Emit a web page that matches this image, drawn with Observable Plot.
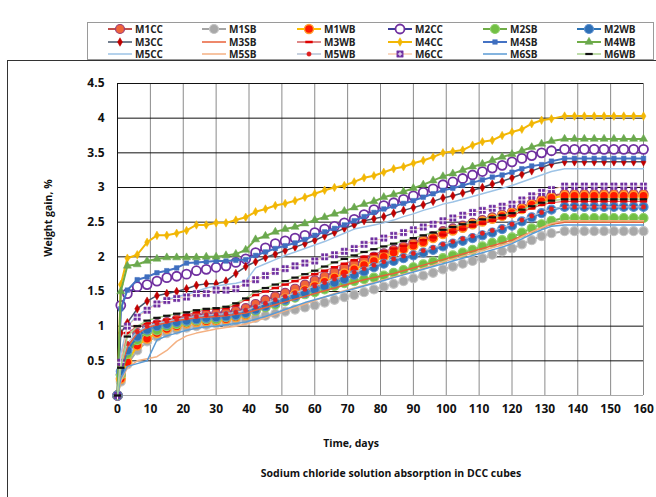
<!DOCTYPE html>
<html><head><meta charset="utf-8">
<script src="https://cdn.jsdelivr.net/npm/d3@7"></script>
<script src="https://cdn.jsdelivr.net/npm/@observablehq/plot@0.6"></script>
<style>
body{margin:0;background:#fff;width:656px;height:497px;overflow:hidden;position:relative;font-family:"Open Sans",Lato,sans-serif;}
#frame{position:absolute;left:7px;top:60px;width:660px;height:450px;border-left:1px solid #333;border-top:1px solid #333;}
#legend{position:absolute;left:87px;top:22px;width:565px;height:36px;border:1px solid #9a9a9a;background:#fff;}
#chart{position:absolute;left:0;top:60px;}
.lab{position:absolute;font-weight:700;color:#111;white-space:nowrap;}
#ylab{font-size:10.5px;left:48px;top:218px;transform:translate(-50%,-50%) rotate(-90deg);}
#xlab{font-size:10.5px;left:351px;top:443px;transform:translate(-50%,-50%);}
#cap{font-size:10.5px;left:391px;top:473px;transform:translate(-50%,-50%);}
.li{position:absolute;display:flex;align-items:center;font-size:10px;font-weight:700;color:#222;}
</style></head><body>
<div id="frame"></div>
<div id="legend"></div>
<div id="chart"></div>
<div class="lab" id="ylab">Weight gain, %</div>
<div class="lab" id="xlab">Time, days</div>
<div class="lab" id="cap">Sodium chloride solution absorption in DCC cubes</div>
<script>
const days = [0,1,3,6,9,12,15,18,21,24, 27,30,33,36,39,42,45,48,51,54, 57,60,63,66,69,72,75,78,81,84, 87,90,93,96,99,102,105,108,111,114, 117,120,123,126,129,132, 136,139,142,145,148,151,154,157,160];
const M1CC = [0,0.3,0.7,0.9,0.98,1.03,1.06,1.1,1.12,1.15, 1.17,1.18,1.2,1.22,1.26,1.32,1.38,1.43,1.48,1.54, 1.6,1.66,1.72,1.78,1.84,1.9,1.95,2.0,2.05,2.1, 2.15,2.2,2.25,2.3,2.37,2.41,2.45,2.49,2.53,2.57, 2.61,2.65,2.71,2.77,2.83,2.88, 2.91,2.91,2.91,2.91,2.91,2.91,2.91,2.91,2.91];
const M1SB = [0,0.2,0.45,0.65,0.78,0.85,0.9,0.95,0.98,1.0, 1.02,1.04,1.05,1.07,1.09,1.12,1.15,1.18,1.21,1.24, 1.27,1.3,1.34,1.38,1.42,1.45,1.49,1.53,1.57,1.61, 1.65,1.69,1.73,1.77,1.82,1.86,1.9,1.94,1.98,2.03, 2.08,2.12,2.18,2.24,2.3,2.34, 2.37,2.37,2.37,2.37,2.37,2.37,2.37,2.37,2.37];
const M1WB = [0,0.24,0.48,0.72,0.82,0.9,0.96,1.0,1.04,1.06, 1.07,1.08,1.1,1.13,1.16,1.22,1.28,1.34,1.4,1.46, 1.52,1.58,1.64,1.7,1.76,1.82,1.88,1.94,2.0,2.06, 2.11,2.16,2.21,2.27,2.33,2.38,2.42,2.47,2.51,2.55, 2.59,2.63,2.69,2.75,2.8,2.85, 2.88,2.88,2.88,2.88,2.88,2.88,2.88,2.88,2.88];
const M2CC = [0,1.3,1.47,1.57,1.6,1.65,1.7,1.72,1.75,1.8, 1.82,1.85,1.87,1.92,1.97,2.06,2.13,2.19,2.23,2.27, 2.31,2.35,2.4,2.44,2.49,2.54,2.61,2.68,2.74,2.78, 2.83,2.88,2.93,2.98,3.04,3.08,3.13,3.18,3.23,3.28, 3.32,3.37,3.42,3.46,3.5,3.53, 3.55,3.55,3.55,3.55,3.55,3.55,3.55,3.55,3.55];
const M2SB = [0,0.3,0.6,0.8,0.92,0.94,1.0,1.03,1.06,1.08, 1.1,1.1,1.13,1.15,1.18,1.22,1.27,1.31,1.36,1.41, 1.46,1.49,1.53,1.58,1.62,1.65,1.68,1.7,1.73,1.77, 1.81,1.85,1.89,1.93,1.98,2.02,2.06,2.1,2.15,2.2, 2.24,2.28,2.35,2.41,2.47,2.52, 2.56,2.56,2.56,2.56,2.56,2.56,2.56,2.56,2.56];
const M2WB = [0,0.35,0.65,0.85,0.95,1.0,1.03,1.06,1.08,1.1, 1.12,1.13,1.14,1.16,1.19,1.24,1.29,1.34,1.38,1.43, 1.48,1.53,1.58,1.63,1.68,1.74,1.79,1.85,1.9,1.94, 1.98,2.02,2.06,2.1,2.15,2.19,2.23,2.27,2.31,2.35, 2.4,2.45,2.51,2.57,2.63,2.68, 2.72,2.72,2.72,2.72,2.72,2.72,2.72,2.72,2.72];
const M3CC = [0,0.9,1.05,1.25,1.36,1.44,1.47,1.5,1.54,1.59, 1.61,1.61,1.65,1.76,1.86,1.93,1.99,2.04,2.09,2.14, 2.19,2.24,2.3,2.35,2.41,2.46,2.52,2.55,2.58,2.63, 2.67,2.71,2.75,2.8,2.85,2.88,2.92,2.96,3.0,3.05, 3.09,3.14,3.19,3.24,3.29,3.34, 3.37,3.37,3.37,3.37,3.37,3.37,3.37,3.37,3.37];
const M3SB = [0,0.4,0.7,0.9,0.98,1.02,1.05,1.08,1.1,1.12, 1.13,1.14,1.15,1.17,1.19,1.23,1.27,1.31,1.35,1.39, 1.43,1.47,1.51,1.55,1.59,1.63,1.67,1.7,1.73,1.76, 1.8,1.84,1.88,1.92,1.96,2.0,2.04,2.08,2.12,2.16, 2.2,2.24,2.3,2.36,2.42,2.47, 2.5,2.5,2.5,2.5,2.5,2.5,2.5,2.5,2.5];
const M3WB = [0,0.5,0.9,1.0,1.04,1.06,1.09,1.12,1.16,1.2, 1.24,1.25,1.26,1.3,1.38,1.45,1.5,1.55,1.6,1.65, 1.7,1.75,1.8,1.85,1.9,1.95,2.0,2.04,2.08,2.12, 2.16,2.2,2.24,2.28,2.32,2.36,2.4,2.44,2.48,2.52, 2.56,2.6,2.65,2.7,2.75,2.78, 2.8,2.8,2.8,2.8,2.8,2.8,2.8,2.8,2.8];
const M4CC = [0,1.6,1.98,2.03,2.21,2.31,2.31,2.34,2.38,2.46, 2.46,2.49,2.49,2.53,2.57,2.65,2.69,2.74,2.77,2.81, 2.86,2.91,2.96,3.0,3.03,3.08,3.14,3.17,3.22,3.27, 3.3,3.35,3.39,3.44,3.5,3.52,3.54,3.61,3.66,3.68, 3.75,3.8,3.84,3.92,3.97,3.99, 4.03,4.03,4.03,4.03,4.03,4.03,4.03,4.03,4.03];
const M4SB = [0,1.25,1.52,1.67,1.71,1.77,1.8,1.84,1.91,1.92, 1.93,1.94,1.94,1.95,1.96,2.02,2.07,2.12,2.16,2.2, 2.25,2.31,2.36,2.41,2.46,2.52,2.58,2.64,2.69,2.73, 2.77,2.81,2.86,2.91,2.96,2.99,3.03,3.07,3.11,3.15, 3.18,3.22,3.27,3.31,3.33,3.38, 3.42,3.42,3.42,3.42,3.42,3.42,3.42,3.42,3.42];
const M4WB = [0,1.5,1.87,1.89,1.94,1.97,1.99,1.99,1.99,1.99, 2.0,2.0,2.02,2.04,2.1,2.25,2.3,2.36,2.4,2.43, 2.48,2.53,2.57,2.62,2.66,2.71,2.76,2.8,2.86,2.9, 2.94,2.99,3.04,3.1,3.16,3.2,3.25,3.3,3.34,3.39, 3.44,3.48,3.53,3.58,3.63,3.67, 3.7,3.7,3.7,3.7,3.7,3.7,3.7,3.7,3.7];
const M5CC = [0,0.6,1.0,1.15,1.25,1.32,1.38,1.42,1.46,1.5, 1.55,1.58,1.6,1.62,1.65,1.84,1.9,1.96,2.02,2.07, 2.12,2.17,2.22,2.28,2.34,2.4,2.43,2.46,2.49,2.53, 2.58,2.62,2.67,2.71,2.76,2.79,2.83,2.87,2.91,2.95, 2.99,3.03,3.08,3.13,3.18,3.23, 3.27,3.27,3.27,3.27,3.27,3.27,3.27,3.27,3.27];
const M5SB = [0,0.2,0.4,0.5,0.53,0.56,0.65,0.78,0.86,0.9, 0.93,0.96,0.98,1.0,1.03,1.07,1.12,1.17,1.22,1.27, 1.32,1.37,1.42,1.47,1.51,1.55,1.59,1.63,1.67,1.71, 1.75,1.79,1.84,1.88,1.93,1.97,2.01,2.05,2.09,2.13, 2.17,2.21,2.29,2.36,2.42,2.48, 2.52,2.52,2.52,2.52,2.52,2.52,2.52,2.52,2.52];
const M5WB = [0,0.45,0.75,0.92,1.0,1.04,1.07,1.1,1.12,1.14, 1.16,1.17,1.18,1.2,1.23,1.28,1.33,1.38,1.43,1.48, 1.53,1.58,1.63,1.68,1.73,1.78,1.83,1.88,1.93,1.97, 2.01,2.05,2.09,2.13,2.18,2.22,2.26,2.3,2.34,2.38, 2.42,2.47,2.53,2.59,2.64,2.69, 2.72,2.72,2.72,2.72,2.72,2.72,2.72,2.72,2.72];
const M6CC = [0,0.48,1.0,1.13,1.23,1.32,1.37,1.4,1.42,1.47, 1.47,1.52,1.52,1.54,1.62,1.67,1.73,1.79,1.83,1.87, 1.91,1.94,2.0,2.03,2.08,2.12,2.18,2.23,2.27,2.31, 2.35,2.39,2.43,2.47,2.52,2.56,2.6,2.64,2.67,2.7, 2.73,2.76,2.82,2.88,2.93,2.97, 3.02,3.02,3.02,3.02,3.02,3.02,3.02,3.02,3.02];
const M6SB = [0,0.25,0.42,0.46,0.5,0.8,0.86,0.9,0.94,0.97, 0.99,1.0,1.02,1.04,1.06,1.1,1.14,1.19,1.24,1.29, 1.34,1.38,1.42,1.46,1.5,1.54,1.58,1.62,1.66,1.7, 1.74,1.78,1.82,1.86,1.9,1.94,1.98,2.02,2.06,2.1, 2.14,2.19,2.26,2.33,2.39,2.44, 2.46,2.46,2.46,2.46,2.46,2.46,2.46,2.46,2.46];
const M6WB = [0,0.4,0.85,1.0,1.08,1.12,1.15,1.18,1.2,1.23, 1.25,1.26,1.28,1.33,1.4,1.5,1.55,1.6,1.65,1.7, 1.75,1.8,1.86,1.92,1.97,2.02,2.07,2.11,2.15,2.19, 2.23,2.27,2.31,2.35,2.39,2.43,2.47,2.5,2.54,2.57, 2.6,2.63,2.68,2.73,2.78,2.81, 2.83,2.83,2.83,2.83,2.83,2.83,2.83,2.83,2.83];

const seriesNames = ["M1CC","M1SB","M1WB","M2CC","M2SB","M2WB","M3CC","M3SB","M3WB","M4CC","M4SB","M4WB","M5CC","M5SB","M5WB","M6CC","M6SB","M6WB"];
const seriesValues = [M1CC,M1SB,M1WB,M2CC,M2SB,M2WB,M3CC,M3SB,M3WB,M4CC,M4SB,M4WB,M5CC,M5SB,M5WB,M6CC,M6SB,M6WB];
const xTicks = [0,10,20,30,40,50,60,70,80,90,100,110,120,130,140,150,160];
const yTicks = [0,0.5,1,1.5,2,2.5,3,3.5,4,4.5];

const dash = {draw(ctx, size){ const w = Math.sqrt(size) * 0.95; ctx.moveTo(-w, 0); ctx.lineTo(w, 0); }};

const styles = {
  M1CC:{line:"#c0504d", lw:2, sym:"circle", r:4.5, fill:"#f0643a", stroke:"#9a3f78", sw:1.2},
  M1SB:{line:"#a5a5a5", lw:2, sym:"circle", r:4.5, fill:"#a8a8a8", stroke:"#c4c4c4", sw:1.2},
  M1WB:{line:"#ffc000", lw:2, sym:"circle", r:4.5, fill:"#ff1a00", stroke:"#ffa030", sw:1.4},
  M2CC:{line:"#3d3d99", lw:2, sym:"circle", r:4.5, fill:"#ffffff", stroke:"#7030a0", sw:1.8},
  M2SB:{line:"#70ad47", lw:2, sym:"circle", r:4.5, fill:"#72bf44", stroke:"#8fd06a", sw:1.2},
  M2WB:{line:"#2e75b6", lw:2, sym:"circle", r:4.5, fill:"#2e6fb5", stroke:"#5a8fd0", sw:1.2},
  M3CC:{line:"#44546a", lw:1.5, sym:"diamond", r:2.6, fill:"#c00000", stroke:"#c00000", sw:0.5},
  M3SB:{line:"#e8603a", lw:1.5},
  M3WB:{line:"#d56060", lw:1.2, sym:dash, r:2.2, fill:"none", stroke:"#e00000", sw:2.5},
  M4CC:{line:"#f2b705", lw:2, sym:"diamond", r:2.6, fill:"#f2b705", stroke:"#f2b705", sw:0.5},
  M4SB:{line:"#4472c4", lw:2, sym:"square", r:2.6, fill:"#3f6fbf", stroke:"#3f6fbf", sw:0.5},
  M4WB:{line:"#70ad47", lw:2, sym:"triangle", r:3, fill:"#6aa84f", stroke:"#6aa84f", sw:0.5},
  M5CC:{line:"#9dc3e6", lw:1.5},
  M5SB:{line:"#f4b183", lw:1.5},
  M5WB:{line:"#b4c2d4", lw:1.2, sym:"circle", r:2.2, fill:"#e02020", stroke:"#e02020", sw:0.5},
  M6CC:{line:"#f8cbad", lw:1, sym:"square", r:3.6, fill:"#7030a0", stroke:"#7030a0", sw:0.5, plus:true},
  M6SB:{line:"#5b9bd5", lw:1.5},
  M6WB:{line:"#a9d18e", lw:1.5, sym:dash, r:2.2, fill:"none", stroke:"#111111", sw:2.2}
};

const rows = seriesNames.flatMap((s, i) => days.map((d, j) => ({series: s, day: d, gain: seriesValues[i][j]})));

const marks = [
  Plot.ruleX(xTicks.slice(1), {stroke: "#8a8a8a", strokeWidth: 1}),
  Plot.ruleY(yTicks.slice(1), {stroke: "#111", strokeWidth: 1}),
  Plot.ruleY([0], {stroke: "#aaa", strokeWidth: 1}),
  Plot.ruleX([0], {stroke: "#111", strokeWidth: 1})
];
for (const s of seriesNames) {
  const st = styles[s];
  const data = rows.filter(r => r.series === s);
  marks.push(Plot.line(data, {x: "day", y: "gain", stroke: st.line, strokeWidth: st.lw}));
  if (st.sym) {
    marks.push(Plot.dot(data, {x: "day", y: "gain", symbol: st.sym, r: st.r, fill: st.fill, stroke: st.stroke, strokeWidth: st.sw}));
    if (st.plus) marks.push(Plot.dot(data, {x: "day", y: "gain", symbol: "plus", r: 2.6, stroke: "#fff", strokeWidth: 1}));
  }
}
marks.push(Plot.axisX(xTicks, {tickSize: 0, tickPadding: 9, fontSize: 12, fontWeight: "bold", fill: "#111", label: null, tickFormat: d => String(d)}));
marks.push(Plot.axisY(yTicks, {tickSize: 0, tickPadding: 13, fontSize: 12, fontWeight: "bold", fill: "#111", label: null, tickFormat: d => String(d)}));

const chart = Plot.plot({
  width: 656, height: 400,
  marginTop: 23, marginBottom: 65, marginLeft: 117, marginRight: 13,
  x: {domain: [0, 160]},
  y: {domain: [0, 4.5]},
  style: {fontFamily: "'Open Sans', Lato, sans-serif", background: "transparent", overflow: "visible"},
  marks
});
document.getElementById("chart").appendChild(chart);

// legend
const legend = document.getElementById("legend");
const colX = [20, 114, 209, 300, 395, 489];
const rowY = [5, 17.5, 30];
seriesNames.forEach((s, i) => {
  const st = styles[s];
  const c = i % 6, r = Math.floor(i / 6);
  const div = document.createElement("div");
  div.className = "li";
  div.style.left = colX[c] + "px";
  div.style.top = (rowY[r] - 6) + "px";
  let sym = "";
  if (st.sym) {
    const size = st.r * st.r * Math.PI;
    let path;
    if (st.sym === dash) { const w = Math.sqrt(size) * 0.95; path = `M${-w},0L${w},0`; }
    else {
      const map = {circle: d3.symbolCircle, diamond: d3.symbolDiamond, square: d3.symbolSquare, triangle: d3.symbolTriangle};
      path = d3.symbol(map[st.sym], size)();
    }
    sym = `<path transform="translate(12,6)" d="${path}" fill="${st.fill}" stroke="${st.stroke}" stroke-width="${st.sw}"/>`;
    if (st.plus) sym += `<path transform="translate(12,6)" d="M-2.2,0H2.2M0,-2.2V2.2" stroke="#fff" stroke-width="1"/>`;
  }
  div.innerHTML = `<svg width="24" height="12" style="margin-right:3px"><line x1="0" x2="24" y1="6" y2="6" stroke="${st.line}" stroke-width="${Math.max(st.lw,1.5)}"/>${sym}</svg><span>${s}</span>`;
  legend.appendChild(div);
});
</script>
</body></html>
